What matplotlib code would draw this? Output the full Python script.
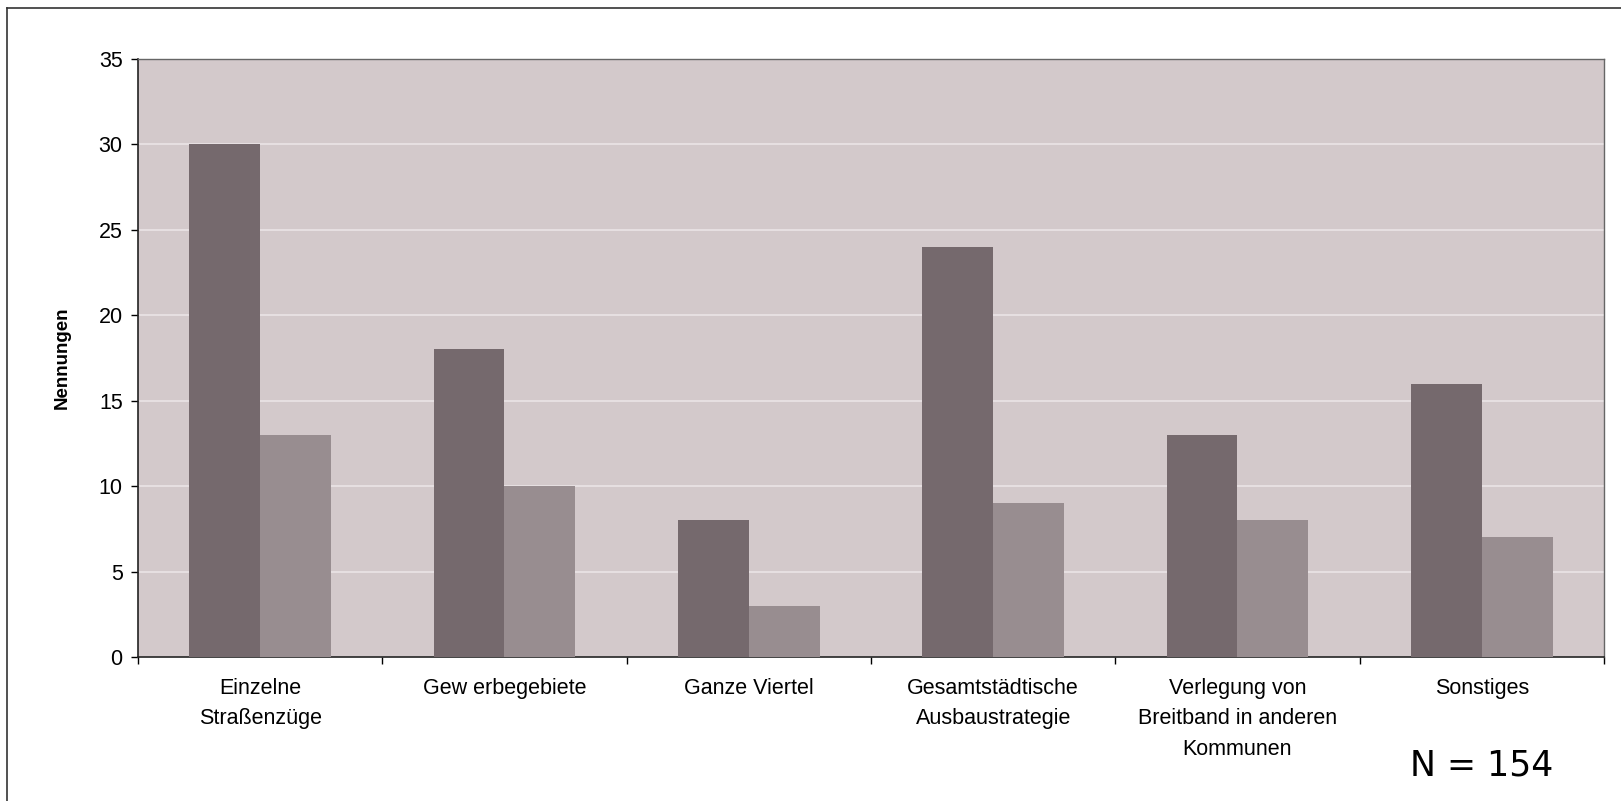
import matplotlib.pyplot as plt
import numpy as np

# data
categories = ['Einzelne\nStraßenzüge', 'Gew erbegebiete', 'Ganze Viertel',
              'Gesamtstädtische\nAusbaustrategie',
              'Verlegung von\nBreitband in anderen\nKommunen', 'Sonstiges']
series_a = [30, 18, 8, 24, 13, 16]
series_b = [13, 10, 3, 9, 8, 7]
y_ticks = [0, 5, 10, 15, 20, 25, 30, 35]

dark_bar = '#75696d'
light_bar = '#988d90'
plot_bg = '#d3c9cb'

plt.rcParams['font.family'] = ['Liberation Sans', 'DejaVu Sans']

fig = plt.figure(figsize=(16.21, 8.01), dpi=100)
ax = fig.add_axes([138 / 1621, 1 - 657 / 801, (1604 - 138) / 1621, (657 - 59) / 801])
ax.set_facecolor(plot_bg)

x = np.arange(len(categories))
w = 0.29
ax.bar(x - w / 2, series_a, width=w, color=dark_bar, zorder=3)
ax.bar(x + w / 2, series_b, width=w, color=light_bar, zorder=3)

ax.set_xlim(-0.5, len(categories) - 0.5)
ax.set_ylim(0, 35)
ax.set_yticks(y_ticks)
ax.yaxis.grid(True, color='#e6dfe1', linewidth=1.5, zorder=1)
ax.set_axisbelow(True)

# category boundaries as ticks, labels centred under groups
ax.set_xticks(np.arange(len(categories) + 1) - 0.5)
ax.set_xticklabels([])
ax.set_xticks(x, minor=True)
ax.set_xticklabels(categories, minor=True, fontsize=15.5, linespacing=1.6, va='top')
ax.tick_params(axis='x', which='minor', length=0, pad=15)
ax.tick_params(axis='x', which='major', length=5, width=1, direction='out')
ax.tick_params(axis='y', length=5, width=1, labelsize=15.5, pad=6)

for s in ['left', 'bottom']:
    ax.spines[s].set_color('#222222')
    ax.spines[s].set_linewidth(1.2)
for s in ['top', 'right']:
    ax.spines[s].set_color('#666666')
    ax.spines[s].set_linewidth(1)

ax.set_ylabel('Nennungen', fontsize=13.5, fontweight='bold', labelpad=20)

fig.text(1482 / 1621, 1 - 766 / 801, 'N = 154', family='DejaVu Sans',
         fontsize=25, ha='center', va='center')

# outer frame lines
fig.add_artist(plt.Line2D([7 / 1621, 7 / 1621], [0, 1 - 8 / 801],
                          transform=fig.transFigure, color='#333333', linewidth=1.2))
fig.add_artist(plt.Line2D([7 / 1621, 1], [1 - 8 / 801, 1 - 8 / 801],
                          transform=fig.transFigure, color='#333333', linewidth=1.2))

fig.savefig('out.png', dpi=100)
